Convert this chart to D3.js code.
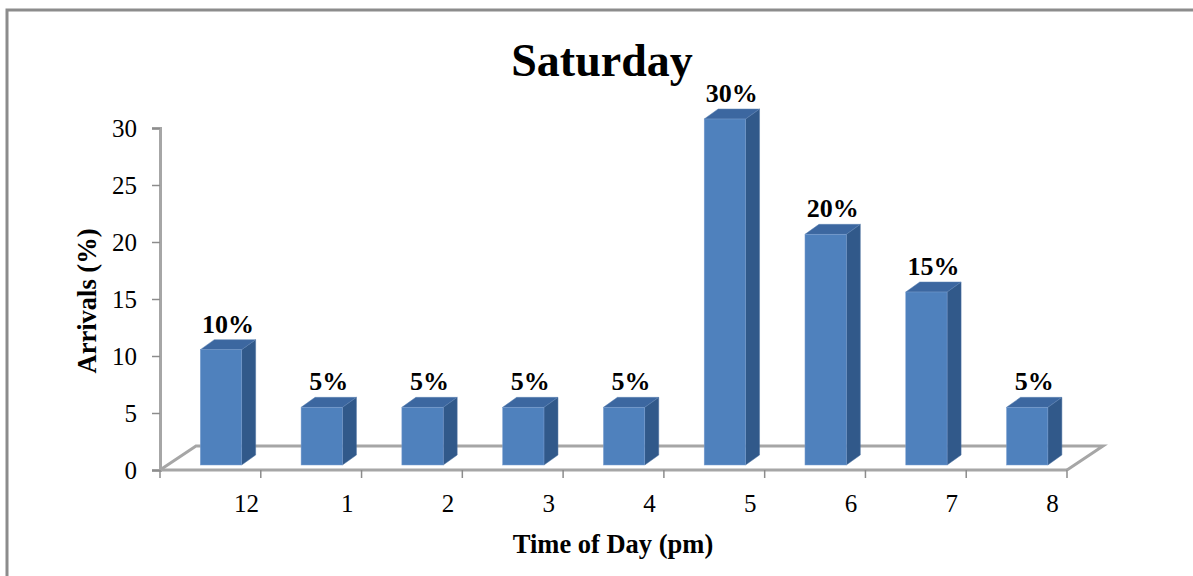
<!DOCTYPE html>
<html>
<head>
<meta charset="utf-8">
<script src="https://cdn.jsdelivr.net/npm/d3@7"></script>
<style>
  body { margin: 0; background: #fff; }
  text { font-family: 'Times New Roman', Times, Tinos, 'Liberation Serif', serif; fill: #000; }
</style>
</head>
<body>
<div id="chart"></div>
<script>
let categories = ['12', '1', '2', '3', '4', '5', '6', '7', '8']
let arrivals = [10, 5, 5, 5, 5, 30, 20, 15, 5]
let yTicks = [0, 5, 10, 15, 20, 25, 30]

let width = 1193
let height = 576
let serif = "'Times New Roman', Times, Tinos, 'Liberation Serif', serif"
let depth = {dx: 14, dy: -10}      // bar depth offset
let floorDepth = {dx: 36, dy: -24} // floor depth offset

let svg = d3.select('#chart').append('svg').attr('width', width).attr('height', height)

// outer frame (only top and left edges are visible)
svg.append('path').attr('d', 'M7,576 L7,10 L1193,10')
    .attr('fill', 'none').attr('stroke', '#8c8c8c').attr('stroke-width', 3)

let x = d3.scaleBand().domain(categories).range([160, 1067]).padding(0)
let y = d3.scaleLinear().domain([0, 30]).range([470, 128])
// bars stand a bit back on the floor
let yBar = d3.scaleLinear().domain([0, 30]).range([465, 119])

// floor
let x0 = x.range()[0], x1 = x.range()[1], y0 = y(0)
svg.append('path')
    .attr('d', 'M' + x0 + ',' + y0 + ' L' + (x0 + floorDepth.dx) + ',' + (y0 + floorDepth.dy)
        + ' L' + (x1 + floorDepth.dx) + ',' + (y0 + floorDepth.dy) + ' L' + x1 + ',' + y0)
    .attr('fill', 'none').attr('stroke', '#a6a6a6').attr('stroke-width', 3)

// y axis
let yAxis = d3.axisLeft(y).tickValues(yTicks).tickSize(8).tickPadding(15)
let gy = svg.append('g').attr('transform', 'translate(' + x0 + ',0)').call(yAxis)
gy.attr('font-family', null).attr('font-size', null)
gy.select('.domain').attr('stroke', '#a6a6a6').attr('stroke-width', 3)
gy.selectAll('.tick line').attr('stroke', '#8c8c8c').attr('stroke-width', 1.5)
gy.selectAll('.tick text').style('font-size', '25px').style('font-family', serif)

// x axis: ticks on band edges, labels shifted for perspective
let gx = svg.append('g').attr('transform', 'translate(0,' + y0 + ')')
gx.append('line').attr('x1', x0).attr('x2', x1).attr('y1', 0).attr('y2', 0)
    .attr('stroke', '#a6a6a6').attr('stroke-width', 3)
let edges = categories.map(c => x(c)).concat([x1])
gx.selectAll('.xtick').data(edges).enter().append('line').attr('class', 'xtick')
    .attr('x1', d => d).attr('x2', d => d).attr('y1', 0).attr('y2', 8)
    .attr('stroke', '#8c8c8c').attr('stroke-width', 1.5)
gx.selectAll('.xlab').data(categories).enter().append('text').attr('class', 'xlab')
    .attr('x', d => x(d) + x.bandwidth() / 2 + 36).attr('y', 42)
    .attr('text-anchor', 'middle').style('font-size', '25px').text(d => d)

// bars
let bw = x.bandwidth() * 0.41
let barData = categories.map((c, i) => ({cat: c, value: arrivals[i]}))
let bars = svg.selectAll('.bar').data(barData).enter().append('g').attr('class', 'bar')

bars.append('path').attr('fill', '#31598a').attr('stroke', '#4a70a0').attr('stroke-width', 0.5)
    .attr('d', d => {
        let bx = x(d.cat) + x.bandwidth() * 0.4 + bw, top = yBar(d.value), base = yBar(0)
        return 'M' + bx + ',' + top + ' L' + (bx + depth.dx) + ',' + (top + depth.dy)
            + ' L' + (bx + depth.dx) + ',' + (base + depth.dy) + ' L' + bx + ',' + base + 'Z'
    })
bars.append('path').attr('fill', '#3c67a0').attr('stroke', '#5a80b0').attr('stroke-width', 0.5)
    .attr('d', d => {
        let bx = x(d.cat) + x.bandwidth() * 0.4, top = yBar(d.value)
        return 'M' + bx + ',' + top + ' L' + (bx + depth.dx) + ',' + (top + depth.dy)
            + ' L' + (bx + bw + depth.dx) + ',' + (top + depth.dy) + ' L' + (bx + bw) + ',' + top + 'Z'
    })
bars.append('rect').attr('fill', '#4f81bd').attr('stroke', '#7a9ed0').attr('stroke-width', 0.5)
    .attr('x', d => x(d.cat) + x.bandwidth() * 0.4).attr('width', bw)
    .attr('y', d => yBar(d.value)).attr('height', d => yBar(0) - yBar(d.value))

bars.append('text').attr('text-anchor', 'middle').style('font-size', '26px').style('font-weight', 'bold')
    .attr('x', d => x(d.cat) + x.bandwidth() * 0.4 + bw / 2 + depth.dx / 2)
    .attr('y', d => yBar(d.value) - 17)
    .text(d => d.value + '%')

// titles
svg.append('text').attr('x', 602).attr('y', 76).attr('text-anchor', 'middle')
    .style('font-size', '46px').style('font-weight', 'bold').text('Saturday')
svg.append('text').attr('x', 613).attr('y', 553).attr('text-anchor', 'middle')
    .style('font-size', '26.5px').style('font-weight', 'bold').text('Time of Day (pm)')
svg.append('text').attr('transform', 'translate(96,301) rotate(-90)').attr('text-anchor', 'middle')
    .style('font-size', '26.5px').style('font-weight', 'bold').text('Arrivals (%)')
</script>
</body>
</html>
